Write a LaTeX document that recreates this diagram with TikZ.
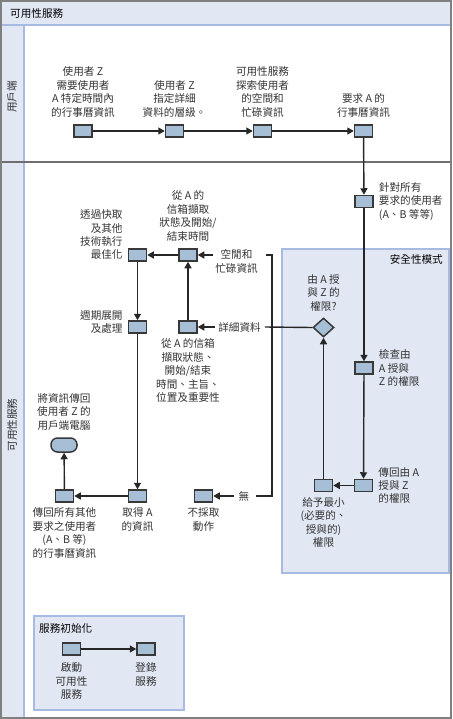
\documentclass[tikz,border=0pt]{standalone}
\usepackage{fontspec}
\setmainfont{Noto Sans CJK TC}
\usetikzlibrary{positioning,shapes.geometric,arrows.meta}

\definecolor{boxfill}{RGB}{166,190,214}
\definecolor{boxline}{RGB}{56,56,56}
\definecolor{panefill}{RGB}{225,232,244}
\definecolor{paneline}{RGB}{166,186,226}
\definecolor{framegray}{RGB}{128,128,128}
\definecolor{lanegray}{RGB}{110,110,110}
\definecolor{notegray}{RGB}{50,50,50}
\newcommand\notefont{\fontsize{10.6}{13.4}\selectfont}

\begin{document}
\begin{tikzpicture}[
			x=1pt, y=-1pt,
			>={Triangle[length=6.5pt,width=7pt]},
			box/.style={draw=boxline, fill=boxfill, line width=1.5pt, minimum width=18pt, minimum height=12pt, inner sep=0pt},
			note/.style={text=notegray, font=\notefont, align=center, inner sep=0pt},
			head/.style={text=black, font=\notefont, inner sep=0pt},
			flow/.style={->, line width=1.4pt, draw=black!85},
			wire/.style={line width=1.4pt, draw=black!85},
			pane/.style={fill=panefill, draw=paneline, line width=1.5pt}
			]

				\useasboundingbox (0,0) rectangle (452,719);

				% lanes
				\fill[panefill] (0,0) rectangle (452,25);
				\fill[panefill] (0,25) rectangle (24,719);
				\draw[paneline, line width=1.5pt] (0,25) -- (452,25);
				\draw[paneline, line width=1.5pt] (24,25) -- (24,719);
				\draw[lanegray, line width=2pt] (0,162) -- (452,162);
				\node[head, anchor=west] (title) at (10,13) {可用性服務};
				\node[note, rotate=90] (laneA) at (12,97) {用戶端};
				\node[note, rotate=90] (laneB) at (12,425) {可用性服務};

				% panes
				\draw[pane] (282,249) rectangle (449,573);
				\node[head, anchor=east] (secure) at (443,259) {安全性模式};
				\draw[pane] (34,616) rectangle (184,710);
				\node[head, anchor=west] (init) at (39,628) {服務初始化};

				% client lane
				\node[box] (ask) at (83,131) {};
				\node[box] (level) at (174.5,131) {};
				\node[box] (probe) at (262.5,131) {};
				\node[box] (req) at (363.5,131) {};
				\node[note, above=7pt of ask] (askLbl) {使用者 Z\\需要使用者\\A 特定時間內\\的行事曆資訊};
				\node[note, above=7pt of level] (levelLbl) {使用者 Z\\指定詳細\\資料的層級。};
				\node[note, above=7pt of probe] (probeLbl) {可用性服務\\探索使用者\\的空間和\\忙碌資訊};
				\node[note, above=7pt of req] (reqLbl) {要求 A 的\\行事曆資訊};
				\draw[flow] (ask) -- (level);
				\draw[flow] (level) -- (probe);
				\draw[flow] (probe) -- (req);

				% service lane
				\node[box] (each) at (364,201.5) {};
				\node[box] (check) at (364,368) {};
				\node[box] (grant) at (363.5,485.5) {};
				\node[box] (least) at (323.5,485.5) {};
				\node[draw=boxline, fill=boxfill, line width=1.5pt, diamond, minimum width=21pt, minimum height=19pt, inner sep=0pt] (perm) at (323.5,327.5) {};
				\node[note, align=left, right=5pt of each] (eachLbl) {針對所有\\要求的使用者\\(A、B 等等)};
				\node[note, align=left, right=5pt of check] (checkLbl) {檢查由\\A 授與\\Z 的權限};
				\node[note, align=left, right=5pt of grant] (grantLbl) {傳回由 A\\授與 Z\\的權限};
				\node[note, below=5pt of least] (leastLbl) {給予最小\\(必要的、\\授與的)\\權限};
				\node[note, above=6pt of perm] (permLbl) {由 A 授\\與 Z 的\\權限?};
				\draw[flow] (req) -- (each);
				\draw[flow] (each) -- (check);
				\draw[flow] (check) -- (grant);
				\draw[flow] (grant) -- (least);
				\draw[flow] (least) -- (perm);

				\node[box] (stat) at (188,255) {};
				\node[box] (opt) at (137.5,255) {};
				\node[box] (mbox) at (188,327) {};
				\node[box] (expand) at (137.5,327) {};
				\node[box] (getA) at (137.5,496) {};
				\node[box] (retAll) at (64.5,496) {};
				\node[draw=boxline, fill=boxfill, line width=1.5pt, rounded corners=6.5pt, minimum width=26pt, minimum height=14pt, inner sep=0pt] (client) at (64,445) {};
				\node[box] (noact) at (203.5,496) {};

				\node[note, above=7pt of stat] (statLbl) {從 A 的\\信箱擷取\\狀態及開始/\\結束時間};
				\node[note, align=right, left=5pt of opt.west, anchor=south east, yshift=-5pt] (optLbl) {透過快取\\及其他\\技術執行\\最佳化};
				\node[note, align=right, left=5pt of expand.west, anchor=south east, yshift=-7pt] (expandLbl) {週期展開\\及處理};
				\node[note, below=5pt of mbox] (mboxLbl) {從 A 的信箱\\擷取狀態、\\開始/結束\\時間、主旨、\\位置及重要性};
				\node[note, below=5pt of getA] (getALbl) {取得 A\\的資訊};
				\node[note, below=5pt of retAll] (retAllLbl) {傳回所有其他\\要求之使用者\\(A、B 等)\\的行事曆資訊};
				\node[note, above=7pt of client] (clientLbl) {將資訊傳回\\使用者 Z 的\\用戶端電腦};
				\node[note, below=5pt of noact] (noactLbl) {不採取\\動作};

				\node[note, anchor=north] (freeLbl) at (236.5,249.5) {空閒和\\忙碌資訊};
				\node[note] (detailLbl) at (239.5,327) {詳細資料};
				\node[note] (noLbl) at (244,496) {無};
				\coordinate (busN) at (272,255);
				\coordinate (busS) at (272,496);

				\draw[flow] ([xshift=-2pt]freeLbl.west |- stat.east) -- (stat);
				\draw[flow] ([xshift=-3pt]detailLbl.west) -- (mbox);
				\draw[flow] ([xshift=-5pt]noLbl.west) -- (noact);
				\draw[wire] ([xshift=8pt]freeLbl.east |- stat.east) -- (busN) -- (busS) -- ([xshift=6pt]noLbl.east);
				\draw[wire] (perm.west) -- ([xshift=4pt]detailLbl.east);

				\draw[flow] (mbox) -- (stat);
				\draw[flow] (stat) -- (opt);
				\draw[flow] (opt) -- (expand);
				\draw[flow] (expand) -- (getA);
				\draw[flow] (getA) -- (retAll);
				\draw[flow] (retAll) -- (client);

				% service start
				\node[box] (start) at (71.5,649) {};
				\node[box] (reg) at (146,649) {};
				\node[note, below=7pt of start] (startLbl) {啟動\\可用性\\服務};
				\node[note, below=7pt of reg] (regLbl) {登錄\\服務};
				\draw[flow] (start) -- (reg);

				% frame
				\draw[framegray, line width=2pt] (1,1) rectangle (451,718);

			\end{tikzpicture}
\end{document}
